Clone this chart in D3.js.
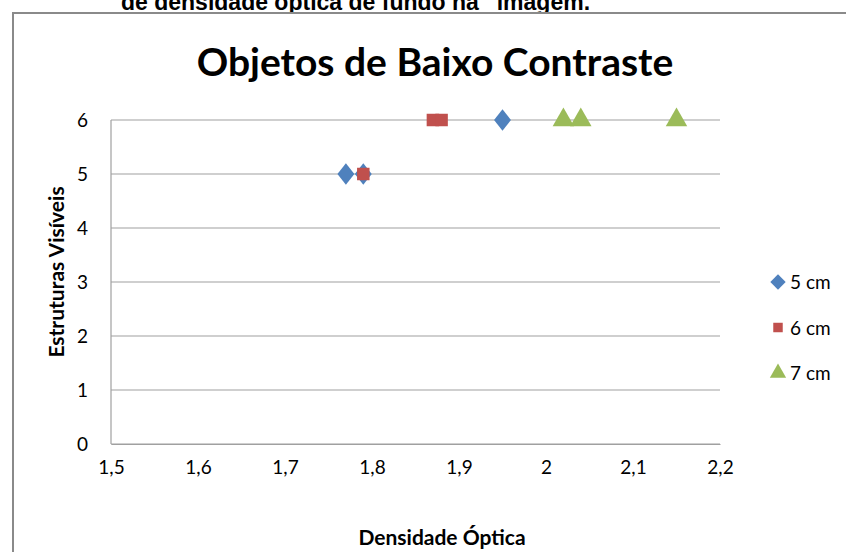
<!DOCTYPE html>
<html>
<head>
<meta charset="utf-8">
<script src="https://cdn.jsdelivr.net/npm/d3@7"></script>
<style>
  body { margin: 0; background: #fff; }
  svg { display: block; }
</style>
</head>
<body>
<svg id="chart" width="846" height="552"></svg>
<script>
// Data
const seriesNames = ["5 cm", "6 cm", "7 cm"];
const series5 = [
    { x: 1.77, y: 5 },
    { x: 1.79, y: 5 },
    { x: 1.95, y: 6 },
];
const series6 = [
    { x: 1.79, y: 5 },
    { x: 1.87, y: 6 },
    { x: 1.88, y: 6 },
];
const series7 = [
    { x: 2.02, y: 6 },
    { x: 2.04, y: 6 },
    { x: 2.15, y: 6 },
];
const xTicks = [1.5, 1.6, 1.7, 1.8, 1.9, 2.0, 2.1, 2.2];
const yTicks = [0, 1, 2, 3, 4, 5, 6];

const colors = ["#4f81bd", "#c0504d", "#9bbb59"];
const font = "Lato, 'Open Sans', sans-serif";

const svg = d3.select("#chart");

// caption above the chart, cut off by the page top
svg.append("text")
    .attr("x", 121)
    .attr("y", 10)
    .attr("font-family", "'Liberation Sans', Arial, sans-serif")
    .attr("font-weight", "bold")
    .attr("font-size", 23)
    .attr("fill", "#000")
    .text("de densidade óptica de fundo na \u201Cimagem.");

// chart frame
svg.append("rect")
    .attr("x", 13)
    .attr("y", 13)
    .attr("width", 900)
    .attr("height", 600)
    .attr("fill", "#fff")
    .attr("stroke", "#8a8a8a")
    .attr("stroke-width", 2);

const margin = { top: 120, right: 126, bottom: 108, left: 111 };
const width = 846 - margin.left - margin.right;
const height = 552 - margin.top - margin.bottom;

const x = d3.scaleLinear().domain([1.5, 2.2]).range([0, width]);
const y = d3.scaleLinear().domain([0, 6]).range([height, 0]);

const g = svg.append("g")
    .attr("transform", `translate(${margin.left},${margin.top})`);

// gridlines
g.append("g")
    .selectAll("line")
    .data(yTicks)
    .enter().append("line")
    .attr("x1", 0)
    .attr("x2", width)
    .attr("y1", d => y(d))
    .attr("y2", d => y(d))
    .attr("stroke", "#a0a0a0")
    .attr("stroke-width", 1.2);

// axes
const xAxis = g.append("g")
    .attr("transform", `translate(0,${height})`)
    .call(d3.axisBottom(x).tickValues(xTicks).tickSize(0).tickPadding(17)
        .tickFormat(d => d3.format("~g")(d).replace(".", ",")));
const yAxis = g.append("g")
    .call(d3.axisLeft(y).tickValues(yTicks).tickSize(0).tickPadding(23)
        .tickFormat(d3.format("d")));

[xAxis, yAxis].forEach(a => {
    a.select(".domain").attr("stroke", "#a0a0a0").attr("stroke-width", 1.2);
    a.selectAll("text")
        .attr("font-family", font)
        .attr("font-size", 19)
        .attr("fill", "#000");
});
yAxis.select(".domain").attr("d", `M0,${height}V0`);

// symbols
const diamond = d3.symbol().type(d3.symbolDiamond2).size(300);
const square = d3.symbol().type(d3.symbolSquare).size(156);
const triangle = d3.symbol().type(d3.symbolTriangle2).size(330);
const shapes = [diamond, square, triangle];
const allSeries = [series5, series6, series7];

allSeries.forEach((data, i) => {
    g.append("g")
        .selectAll("path")
        .data(data)
        .enter().append("path")
        .attr("d", shapes[i])
        .attr("transform", d => i === 0
            ? `translate(${x(d.x)},${y(d.y)}) scale(0.78,1)`
            : `translate(${x(d.x)},${y(d.y)})`)
        .attr("fill", colors[i]);
});

// title
svg.append("text")
    .attr("x", 435)
    .attr("y", 76)
    .attr("text-anchor", "middle")
    .attr("font-family", font)
    .attr("font-weight", "bold")
    .attr("font-size", 39)
    .attr("fill", "#000")
    .text("Objetos de Baixo Contraste");

// axis titles
svg.append("text")
    .attr("x", 442)
    .attr("y", 545)
    .attr("text-anchor", "middle")
    .attr("font-family", font)
    .attr("font-weight", "bold")
    .attr("font-size", 21)
    .attr("fill", "#000")
    .text("Densidade Óptica");

svg.append("text")
    .attr("transform", "translate(64,272) rotate(-90)")
    .attr("text-anchor", "middle")
    .attr("font-family", font)
    .attr("font-weight", "bold")
    .attr("font-size", 21)
    .attr("fill", "#000")
    .text("Estruturas Visíveis");

// legend
const legend = svg.append("g")
    .selectAll("g")
    .data(seriesNames)
    .enter().append("g")
    .attr("transform", (d, i) => `translate(778,${282 + i * 45.5})`);

legend.append("path")
    .attr("d", (d, i) => [
        d3.symbol().type(d3.symbolDiamond2).size(150)(),
        d3.symbol().type(d3.symbolSquare).size(90)(),
        d3.symbol().type(d3.symbolTriangle2).size(190)()
    ][i])
    .attr("fill", (d, i) => colors[i]);

legend.append("text")
    .attr("x", 12)
    .attr("y", 7)
    .attr("font-family", font)
    .attr("font-size", 19)
    .attr("fill", "#000")
    .text(d => d);
</script>
</body>
</html>
